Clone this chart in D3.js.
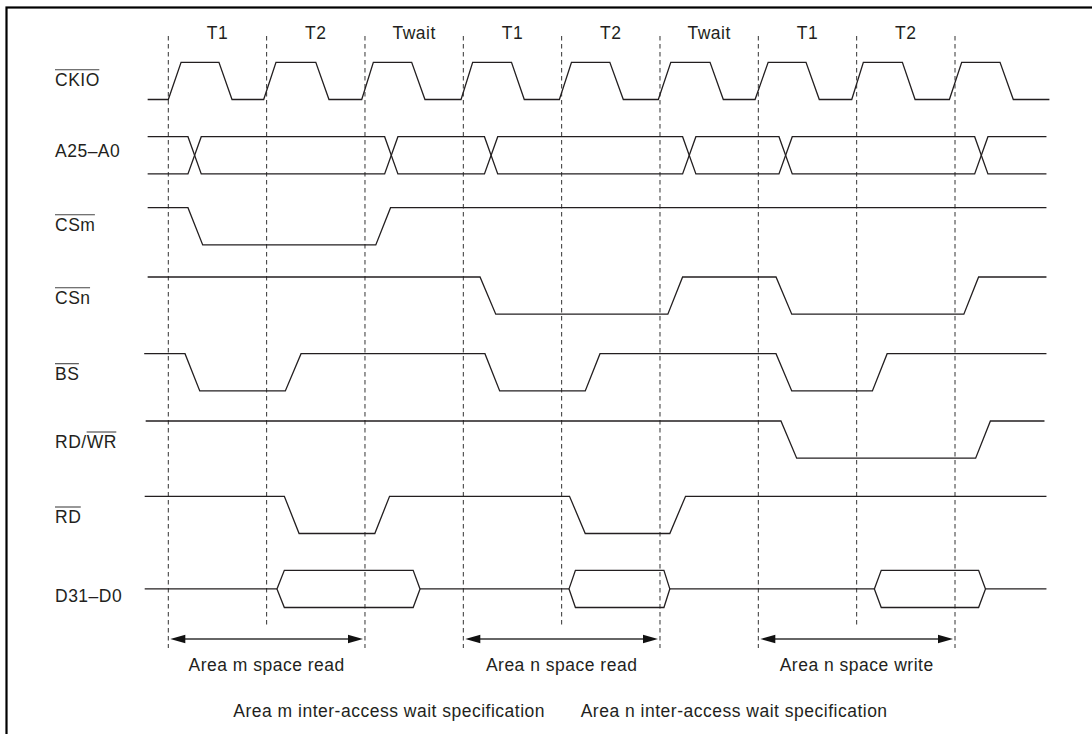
<!DOCTYPE html>
<html>
<head>
<meta charset="utf-8">
<script src="https://cdn.jsdelivr.net/npm/d3@7"></script>
<style>
  html, body { margin: 0; padding: 0; background: #fff; }
  svg { display: block; }
  text { font-family: "Liberation Sans", Arial, Helvetica, sans-serif; fill: #231f20; }
</style>
</head>
<body>
<svg id="chart" width="1092" height="734"></svg>
<script>
// ---------------- data ----------------
const cycleBounds = [0, 1, 2, 3, 4, 5, 6, 7, 8];
const cycleLabels = ["T1", "T2", "Twait", "T1", "T2", "Twait", "T1", "T2"];
const shortDashCycles = [1, 4, 7];

const signalNames = ["CKIO", "A25–A0", "CSm", "CSn", "BS", "RD/WR", "RD", "D31–D0"];
// overlined character range of each label (null = none)
const labelOverline = [[0, 4], null, [0, 3], [0, 3], [0, 2], [3, 5], [0, 2], null];

// digital signals: [edgeStart, edgeEnd, newLevel] in clock-cycle units
const ckioEdges = [
  [0.00, 0.13, 1], [0.515, 0.648, 0],
  [0.97, 1.095, 1], [1.50, 1.634, 0],
  [1.967, 2.085, 1], [2.475, 2.61, 0],
  [2.977, 3.095, 1], [3.49, 3.62, 0],
  [3.977, 4.10, 1], [4.49, 4.627, 0],
  [4.983, 5.11, 1], [5.509, 5.644, 0],
  [5.967, 6.10, 1], [6.485, 6.62, 0],
  [6.95, 7.068, 1], [7.465, 7.594, 0],
  [7.943, 8.068, 1], [8.458, 8.593, 0]
];
const csmEdges  = [[0.20, 0.35, 0], [2.11, 2.26, 1]];
const csnEdges  = [[3.17, 3.33, 0], [5.08, 5.23, 1], [6.18, 6.34, 0], [8.09, 8.24, 1]];
const bsEdges   = [[0.17, 0.32, 0], [1.19, 1.35, 1], [3.22, 3.37, 0], [4.24, 4.39, 1], [6.18, 6.34, 0], [7.16, 7.31, 1]];
const rdwrEdges = [[6.23, 6.39, 0], [8.21, 8.36, 1]];
const rdEdges   = [[1.18, 1.33, 0], [2.10, 2.25, 1], [4.08, 4.24, 0], [5.10, 5.26, 1]];

// address bus crossings: [start, end]
const addrCross = [[0.20, 0.335], [2.20, 2.335], [3.215, 3.35], [5.23, 5.365], [6.21, 6.345], [8.20, 8.335]];
// data bus valid windows: [leftPoint, leftCorner, rightCorner, rightPoint]
const dataValid = [[1.105, 1.18, 2.49, 2.56], [4.075, 4.14, 5.04, 5.10], [7.18, 7.25, 8.24, 8.31]];

const arrowSpans  = [[0, 2], [3, 5], [6, 8]];
const arrowLabels = ["Area m space read", "Area n space read", "Area n space write"];
const noteLabels  = ["Area m inter-access wait specification", "Area n inter-access wait specification"];

// ---------------- layout ----------------
const svg = d3.select("#chart");
const x = d3.scaleLinear().domain([0, 8]).range([168.3, 955]);
const rowTop = [62.3, 136.7, 207.7, 277, 353.7, 421, 496.3, 570.3];
const rowH = 37.2;
const labelBase = [86, 156.7, 231, 304, 380, 448.3, 523.3, 601.7];
const ink = "#231f20";
const lineW = 1.3;

// frame
svg.append("rect").attr("x", 6.5).attr("y", 7.5).attr("width", 1200).attr("height", 1000)
  .attr("fill", "none").attr("stroke", "#000").attr("stroke-width", 2.2);

// dashed cycle boundaries
svg.append("g").selectAll("line").data(cycleBounds).join("line")
  .attr("x1", d => x(d)).attr("x2", d => x(d))
  .attr("y1", 36).attr("y2", d => shortDashCycles.includes(d) ? 627 : 648)
  .attr("stroke", "#333").attr("stroke-width", 1).attr("stroke-dasharray", "4.5,3.5");

// cycle labels
svg.append("g").selectAll("text").data(cycleLabels).join("text")
  .attr("x", (d, i) => x(i + 0.5)).attr("y", 39.3)
  .attr("text-anchor", "middle").attr("font-size", 17.5).attr("letter-spacing", 0.5)
  .text(d => d);

// signal labels
const lbl = svg.append("g").selectAll("text").data(signalNames).join("text")
  .attr("x", 55).attr("y", (d, i) => labelBase[i])
  .attr("font-size", 17.5).attr("letter-spacing", 0.5)
  .text(d => d);
lbl.each(function (d, i) {
  const r = labelOverline[i];
  if (!r) return;
  const x1 = this.getStartPositionOfChar(r[0]).x;
  const e = this.getEndPositionOfChar(r[1] - 1).x - 0.5;
  svg.append("line").attr("x1", x1).attr("x2", e)
    .attr("y1", labelBase[i] - 16.3).attr("y2", labelBase[i] - 16.3)
    .attr("stroke", "#444").attr("stroke-width", 1.1);
});

// helpers
function yRow(i) { return d3.scaleLinear().domain([0, 1]).range([rowTop[i] + rowH, rowTop[i]]); }
const line = d3.line();

function digital(i, edges, t0, t1, init) {
  const y = yRow(i);
  const pts = [[t0, init]];
  let lvl = init;
  edges.forEach(([a, b, n]) => { pts.push([a, lvl]); pts.push([b, n]); lvl = n; });
  pts.push([t1, lvl]);
  svg.append("path").attr("d", line(pts.map(([t, v]) => [x(t), y(v)])))
    .attr("fill", "none").attr("stroke", ink).attr("stroke-width", lineW).attr("stroke-linejoin", "miter");
}

digital(0, ckioEdges, -0.21, 8.96, 0);
digital(2, csmEdges, -0.21, 8.93, 1);
digital(3, csnEdges, -0.21, 8.93, 1);
digital(4, bsEdges, -0.245, 8.93, 1);
digital(5, rdwrEdges, -0.23, 8.91, 1);
digital(6, rdEdges, -0.24, 8.93, 1);

// address bus
(function () {
  const y = yRow(1);
  let a = [[-0.21, 1]], b = [[-0.21, 0]];
  let la = 1, lb = 0;
  addrCross.forEach(([s, e]) => {
    a.push([s, la]); b.push([s, lb]);
    la = 1 - la; lb = 1 - lb;
    a.push([e, la]); b.push([e, lb]);
  });
  a.push([8.93, la]); b.push([8.93, lb]);
  [a, b].forEach(p => svg.append("path").attr("d", line(p.map(([t, v]) => [x(t), y(v)])))
    .attr("fill", "none").attr("stroke", ink).attr("stroke-width", lineW));
})();

// data bus
(function () {
  const y = yRow(7);
  const mid = y(0.5);
  let prev = -0.24;
  dataValid.forEach(([l, c1, c2, r]) => {
    svg.append("path").attr("d", line([[x(prev), mid], [x(l), mid]]))
      .attr("fill", "none").attr("stroke", ink).attr("stroke-width", lineW);
    svg.append("path").attr("d", line([[x(l), mid], [x(c1), y(1)], [x(c2), y(1)], [x(r), mid], [x(c2), y(0)], [x(c1), y(0)]]) + "Z")
      .attr("fill", "none").attr("stroke", ink).attr("stroke-width", lineW);
    prev = r;
  });
  svg.append("path").attr("d", line([[x(prev), mid], [x(8.93), mid]]))
    .attr("fill", "none").attr("stroke", ink).attr("stroke-width", lineW);
})();

// arrows
const arrowY = 639;
const ag = svg.append("g");
arrowSpans.forEach(([s, e], i) => {
  const xs = x(s) + 2, xe = x(e) - 2;
  ag.append("line").attr("x1", xs + 10).attr("x2", xe - 10).attr("y1", arrowY).attr("y2", arrowY)
    .attr("stroke", "#333").attr("stroke-width", 1.3);
  ag.append("path").attr("d", `M${xs},${arrowY}L${xs + 15},${arrowY - 4.3}L${xs + 15},${arrowY + 4.3}Z`).attr("fill", "#111");
  ag.append("path").attr("d", `M${xe},${arrowY}L${xe - 15},${arrowY - 4.3}L${xe - 15},${arrowY + 4.3}Z`).attr("fill", "#111");
  ag.append("text").attr("x", (x(s) + x(e)) / 2).attr("y", 670.7)
    .attr("text-anchor", "middle").attr("font-size", 17.5).attr("letter-spacing", 0.5)
    .text(arrowLabels[i]);
});

// notes
const noteX = [233.3, 580.7];
svg.append("g").selectAll("text").data(noteLabels).join("text")
  .attr("x", (d, i) => noteX[i]).attr("y", 716.5)
  .attr("font-size", 17.5).attr("letter-spacing", 0.5)
  .text(d => d);
</script>
</body>
</html>
